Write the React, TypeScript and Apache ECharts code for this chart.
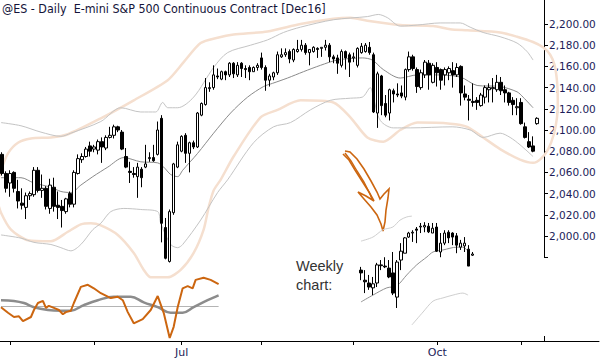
import React, { useEffect, useRef } from "react";
import * as echarts from "echarts";

// ---------- categories ----------
const monthDays: [string, number[]][] = [
  ["2016-04", [28, 29]],
  ["2016-05", [2, 3, 4, 5, 6, 9, 10, 11, 12, 13, 16, 17, 18, 19, 20, 23, 24, 25, 26, 27, 31]],
  ["2016-06", [1, 2, 3, 6, 7, 8, 9, 10, 13, 14, 15, 16, 17, 20, 21, 22, 23, 24, 27, 28, 29, 30]],
  ["2016-07", [1, 5, 6, 7, 8, 11, 12, 13, 14, 15, 18, 19, 20, 21, 22, 25, 26, 27, 28, 29]],
  ["2016-08", [1, 2, 3, 4, 5, 8, 9, 10, 11, 12, 15, 16, 17, 18, 19, 22, 23, 24, 25, 26, 29, 30, 31]],
  ["2016-09", [1, 2, 6, 7, 8, 9, 12, 13, 14, 15, 16, 19, 20, 21, 22, 23, 26, 27, 28, 29, 30]],
  ["2016-10", [3, 4, 5, 6, 7, 10, 11, 12, 13, 14, 17, 18, 19, 20, 21, 24, 25, 26, 27, 28, 31]],
  ["2016-11", [1, 2, 3, 4, 7]],
];
const dates: string[] = monthDays.flatMap(([m, ds]) => ds.map((d) => `${m}-${String(d).padStart(2, "0")}`));
const monthLabels = ["Jul", "Oct"];
const monthNames = ["Jan", "Feb", "Mar", "Apr", "May", "Jun", "Jul", "Aug", "Sep", "Oct", "Nov", "Dec"];

const weeks: string[] = [
  "04-25", "05-02", "05-09", "05-16", "05-23", "05-31", "06-06", "06-13", "06-20", "06-27",
  "07-05", "07-11", "07-18", "07-25", "08-01", "08-08", "08-15", "08-22", "08-29", "09-06",
  "09-12", "09-19", "09-26", "10-03", "10-10", "10-17", "10-24", "10-31", "11-07",
];

// ---------- daily bars [open, high, low, close] ----------
const dailyOHLC: number[][] = [
  [2077, 2079, 2057, 2059], [2059, 2061, 2041, 2045], [2050, 2062, 2037, 2059], [2060, 2061, 2041, 2045],
  [2042, 2053, 2026, 2033], [2031, 2045, 2025, 2029], [2027, 2041, 2016, 2038], [2038, 2042, 2034, 2040],
  [2039, 2065, 2037, 2062], [2062, 2065, 2041, 2043], [2043, 2058, 2036, 2045], [2045, 2047, 2025, 2028],
  [2026, 2054, 2021, 2048], [2046, 2055, 2023, 2028], [2029, 2042, 2016, 2027], [2028, 2034, 2008, 2024],
  [2023, 2036, 2021, 2035], [2040, 2042, 2027, 2030], [2030, 2062, 2027, 2060], [2059, 2077, 2058, 2073],
  [2072, 2078, 2069, 2075], [2075, 2084, 2074, 2082], [2085, 2089, 2075, 2080], [2082, 2086, 2079, 2084],
  [2081, 2091, 2077, 2089], [2089, 2093, 2069, 2084], [2083, 2095, 2081, 2093], [2093, 2103, 2092, 2095],
  [2095, 2105, 2092, 2103], [2103, 2104, 2098, 2100], [2098, 2100, 2081, 2082], [2075, 2083, 2064, 2065],
  [2061, 2070, 2050, 2060], [2059, 2065, 2055, 2058], [2056, 2069, 2036, 2065], [2063, 2065, 2046, 2055],
  [2065, 2086, 2064, 2068], [2073, 2079, 2070, 2074], [2074, 2086, 2070, 2071], [2077, 2108, 2076, 2100],
  [2111, 2114, 1994, 2012], [2008, 2017, 1978, 1979], [1976, 2025, 1975, 2023], [2022, 2069, 2020, 2068],
  [2065, 2089, 2064, 2086], [2080, 2095, 2079, 2094], [2095, 2097, 2069, 2078], [2078, 2089, 2060, 2088],
  [2088, 2090, 2082, 2084], [2084, 2117, 2083, 2116], [2114, 2126, 2113, 2125], [2124, 2149, 2123, 2140],
  [2139, 2145, 2136, 2140], [2140, 2161, 2138, 2152], [2151, 2158, 2148, 2150], [2148, 2156, 2147, 2155],
  [2155, 2156, 2147, 2152], [2152, 2164, 2150, 2163], [2163, 2164, 2149, 2153], [2152, 2164, 2150, 2161],
  [2163, 2164, 2150, 2158], [2158, 2161, 2149, 2157], [2159, 2161, 2147, 2155], [2155, 2160, 2155, 2159],
  [2159, 2163, 2156, 2161], [2168, 2173, 2157, 2159], [2159, 2161, 2137, 2147], [2147, 2153, 2141, 2151],
  [2150, 2155, 2147, 2154], [2154, 2174, 2152, 2171], [2169, 2177, 2168, 2171], [2171, 2177, 2169, 2173],
  [2174, 2176, 2163, 2167], [2166, 2177, 2164, 2176], [2174, 2185, 2173, 2176], [2176, 2185, 2174, 2180],
  [2180, 2182, 2171, 2173], [2173, 2176, 2161, 2176], [2174, 2179, 2173, 2178], [2177, 2178, 2168, 2176],
  [2177, 2178, 2169, 2178], [2178, 2185, 2175, 2180], [2180, 2182, 2164, 2169], [2169, 2171, 2163, 2167],
  [2168, 2171, 2153, 2163], [2161, 2176, 2159, 2174], [2174, 2175, 2157, 2168], [2171, 2173, 2150, 2164],
  [2168, 2173, 2164, 2169], [2161, 2178, 2159, 2177], [2173, 2182, 2172, 2179], [2174, 2182, 2173, 2180],
  [2178, 2183, 2171, 2173], [2171, 2173, 2116, 2117], [2116, 2155, 2102, 2153], [2151, 2152, 2114, 2123],
  [2125, 2133, 2112, 2114], [2116, 2139, 2109, 2138], [2137, 2139, 2126, 2134], [2134, 2144, 2131, 2133],
  [2135, 2142, 2130, 2132], [2131, 2158, 2128, 2157], [2157, 2174, 2155, 2169], [2169, 2171, 2156, 2158],
  [2157, 2159, 2135, 2141], [2140, 2157, 2138, 2154], [2152, 2166, 2149, 2164], [2163, 2166, 2138, 2152],
  [2145, 2163, 2144, 2161], [2159, 2164, 2141, 2154], [2157, 2158, 2138, 2147], [2152, 2159, 2142, 2157],
  [2154, 2160, 2147, 2158], [2156, 2164, 2140, 2152], [2152, 2163, 2150, 2159], [2160, 2161, 2123, 2135],
  [2134, 2142, 2128, 2131], [2129, 2133, 2109, 2128], [2127, 2144, 2122, 2126], [2128, 2131, 2119, 2126],
  [2123, 2135, 2122, 2133], [2131, 2142, 2125, 2140], [2138, 2144, 2126, 2140], [2139, 2149, 2126, 2140],
  [2138, 2152, 2136, 2145], [2145, 2150, 2133, 2137], [2138, 2142, 2126, 2135], [2135, 2136, 2123, 2126],
  [2128, 2131, 2114, 2124], [2121, 2130, 2114, 2122], [2126, 2130, 2105, 2106], [2103, 2107, 2092, 2093],
  [2089, 2098, 2083, 2084], [2085, 2094, 2079, 2080], [2106, 2112, 2105, 2111],
];

// ---------- daily bands: [bar index, price] ----------
const midBand: number[][] = [
  [-0.25, 2055], [4.75, 2055], [8, 2050], [12.25, 2046], [14.75, 2042], [17.25, 2041], [19.75, 2048],
  [22.75, 2056], [26.5, 2065], [30.5, 2074], [34.75, 2070], [39, 2069], [40.5, 2065], [42.25, 2058],
  [44, 2056], [45.25, 2062], [49, 2078], [53, 2097], [57.25, 2116], [61.5, 2131], [65.5, 2141],
  [67.75, 2144], [71.5, 2149], [75.5, 2155], [79.75, 2161], [84, 2166], [90.25, 2168], [92.75, 2166],
  [95.5, 2157], [99.75, 2149], [104, 2152], [108, 2152], [114.75, 2150], [119, 2142], [124.75, 2141],
  [129, 2136], [130.5, 2131], [133, 2121],
];
const upperBand: number[][] = [
  [-0.25, 2107], [4.75, 2104], [9.75, 2098], [14.75, 2094], [17.25, 2097], [24.75, 2108], [29.75, 2121],
  [34.75, 2117], [38.5, 2117], [40.25, 2126], [41.5, 2121], [44, 2121], [48, 2131], [53, 2159],
  [56.5, 2173], [62.25, 2180], [66.5, 2185], [70.5, 2192], [74.75, 2197], [83, 2204], [91.5, 2207],
  [94.25, 2209], [96.5, 2206], [99.75, 2198], [104, 2199], [109.75, 2201], [114.75, 2201], [117.25, 2197],
  [120.5, 2192], [124.75, 2188], [129, 2182], [131.5, 2174], [133, 2166],
];
const lowerBand: number[][] = [
  [-0.25, 2001], [4.75, 1998], [8, 1994], [12.25, 1992], [14.75, 1989], [17.25, 1986], [19.75, 1992],
  [22.75, 2006], [24.75, 2012], [27.25, 2023], [30.5, 2026], [34.75, 2025], [39, 2023], [39.75, 2012],
  [42.25, 1992], [44, 1989], [45.25, 1992], [49.75, 2015], [54, 2041], [56.5, 2053], [63, 2088],
  [68, 2103], [72.25, 2107], [77.25, 2119], [82.25, 2128], [87.25, 2130], [90.25, 2131], [92.25, 2140],
  [93, 2131], [94.75, 2109], [98, 2102], [102.25, 2102], [112.75, 2103], [117.25, 2100], [120.5, 2093],
  [124.75, 2097], [127.25, 2093], [129.75, 2086], [133, 2075],
];
// smoothed envelope, drawn as one closed loop (lower side left→right, upper side right→left)
const envelope: number[][] = [
  [-1.25, 2034], [-0.25, 2022], [2.25, 2006], [6.5, 1996], [12.25, 1995], [16.5, 2004], [19.75, 2011],
  [22.25, 2012], [24.75, 2010], [29, 2001], [33, 1984], [35.5, 1968], [37.25, 1961], [41.5, 1961],
  [44.75, 1968], [48, 1984], [50.5, 2006], [51.75, 2027], [53, 2043], [54.75, 2053], [58, 2075],
  [64.75, 2112], [69, 2119], [74.75, 2128], [83, 2126], [87.25, 2112], [91.5, 2093], [95.5, 2089],
  [99.75, 2100], [104, 2107], [112.25, 2106], [116.5, 2103], [120.5, 2093], [124.75, 2082],
  [129.75, 2072], [133, 2069], [135, 2073], [136.8, 2082], [138.2, 2096], [139, 2112], [139.2, 2128],
  [139, 2146], [138.4, 2161], [137.3, 2171], [135.5, 2178], [133, 2183], [129, 2188], [124.75, 2192],
  [116.5, 2194], [112.25, 2195], [108, 2198], [99.75, 2199], [91.5, 2203], [87.25, 2206], [83, 2205],
  [74.75, 2200], [66.5, 2193], [58, 2190], [54, 2187], [49.75, 2182], [45.5, 2164], [41.5, 2147],
  [33, 2128], [24.75, 2111], [16.5, 2096], [12.25, 2093], [7.25, 2092], [4, 2088], [1.5, 2078],
  [-0.25, 2062], [-1.25, 2048],
];

// ---------- oscillator: [bar index, value] ----------
const oscFast: number[][] = [
  [-0.25, -1], [1.5, -9], [3, -15], [4.25, -14], [5.25, -21], [7.25, -15], [8, -5], [9, 5], [10.25, 8],
  [11, -2], [11.75, 1], [13, -2], [14.25, -5], [15.25, -11], [16, -8], [17.25, -6], [18, 5], [19.75, 28],
  [21.5, 31], [23, 26], [24.75, 19], [27.25, 12], [29, 14], [30.25, 9], [31.5, -8], [33, -24],
  [35.25, -18], [37.25, -5], [39, 15], [40.5, -9], [42, -45], [43, -29], [44, -1], [45.25, 26],
  [46.5, 29], [47.75, 26], [48.5, 38], [50.5, 41], [52.25, 38], [54.25, 32],
];
const oscSlow: number[][] = [
  [-0.25, 9], [3, 8], [5.5, 5], [8, -1], [11.5, -5], [14.75, -6], [17.25, -6], [20.5, 2], [24, 9],
  [28, 14], [32.25, 14], [35.5, 6], [39, -1], [42.25, -9], [45.25, -9], [48, -1], [51.5, 9], [54.25, 16],
];
const oscZero: number[][] = [[-0.25, 0], [54.25, 0]];

// ---------- weekly inset [open, high, low, close] ----------
const weeklyOHLC: number[][] = [
  [2069, 2077, 2044, 2062], [2044, 2069, 2012, 2040], [2037, 2057, 2020, 2027], [2025, 2052, 2007, 2035],
  [2037, 2087, 2027, 2082], [2082, 2094, 2069, 2080], [2079, 2101, 2074, 2077], [2074, 2094, 2049, 2052],
  [2062, 2114, 2007, 2012], [2002, 2094, 1975, 2089], [2094, 2136, 2069, 2116], [2111, 2151, 2111, 2149],
  [2151, 2164, 2149, 2161], [2161, 2168, 2139, 2163], [2171, 2176, 2136, 2168], [2176, 2186, 2161, 2178],
  [2176, 2188, 2163, 2180], [2178, 2186, 2161, 2164], [2161, 2186, 2161, 2173], [2176, 2186, 2114, 2116],
  [2114, 2161, 2101, 2136], [2136, 2168, 2131, 2161], [2163, 2168, 2136, 2149], [2161, 2163, 2131, 2151],
  [2154, 2161, 2111, 2131], [2126, 2144, 2119, 2136], [2129, 2151, 2114, 2136], [2121, 2131, 2079, 2079],
  [2106, 2114, 2104, 2109],
];
const weeklyUpper: number[][] = [[0, 2141], [3, 2151], [5.5, 2169], [8, 2176], [9.8, 2193], [11.5, 2201], [12.8, 2203]];
const weeklyMid: number[][] = [
  [0, 1990], [3, 2007], [6.5, 2025], [9, 2030], [11.5, 2057], [14, 2082], [16.6, 2102], [18.1, 2114],
  [20.6, 2119], [24.1, 2126], [25.6, 2126], [26.9, 2116],
];
const weeklyLower: number[][] = [[12.8, 1933], [15.6, 1965], [18.1, 1992], [20.6, 2000], [23.1, 2007], [25.6, 2012], [26.9, 2007]];

const priceTicks = [1980, 2000, 2020, 2040, 2060, 2080, 2100, 2120, 2140, 2160, 2180, 2200];
const priceLabels = [2000, 2020, 2040, 2060, 2080, 2100, 2120, 2140, 2160, 2180, 2200];

const TEXT = "#1c1c58";
const PEACH = "#f5dfcf";
const ORANGE = "#cc6610";

export default function App() {
  const ref = useRef<HTMLDivElement>(null);

  useEffect(() => {
    if (!ref.current) return;
    const chart = echarts.init(ref.current, null, { renderer: "svg" });

    const mainCats = [...dates, "pad"];
    const bottomCats = [...dates, ...Array.from({ length: 15 }, (_, i) => `pad${i}`)];
    const monthStart = new Set<number>();
    dates.forEach((d, i) => {
      if (i > 0 && d.slice(0, 7) !== dates[i - 1].slice(0, 7)) monthStart.add(i);
    });
    const labelIdx = new Set<number>(
      [...monthStart].filter((i) => monthLabels.includes(monthNames[Number(dates[i].slice(5, 7)) - 1]))
    );

    const toCandle = (b: number[]) => [b[0], b[3], b[2], b[1]];
    // overlay grid is 4px per bar, widened to 141 bars so the envelope loop past the axis is kept
    const overlayBars = 141;
    const xMax = mainCats.length - 0.5;

    const lineBase = { type: "line", symbol: "none", clip: false, silent: true, animation: false };
    const candleStyle = {
      color: "#ffffff",
      color0: "#000000",
      borderColor: "#000000",
      borderColor0: "#000000",
      borderColorDoji: "#000000",
      borderWidth: 1,
    };

    chart.setOption({
      animation: false,
      backgroundColor: "#ffffff",
      grid: [
        { left: -1, top: 0, width: 544, height: 257.2 },
        { left: -1, top: 0, width: overlayBars * 4, height: 257.2 },
        { left: -1, top: 271.5, width: 544, height: 70 },
        { left: -1, top: 258, width: 600, height: 83 },
        { left: 359, top: 197.2, width: 115.4, height: 141 },
        { left: 359, top: 197.2, width: 115.4, height: 141 },
      ],
      xAxis: [
        { gridIndex: 0, type: "category", data: mainCats, boundaryGap: true, show: false },
        { gridIndex: 1, type: "value", min: -0.5, max: overlayBars - 0.5, show: false },
        { gridIndex: 2, type: "value", min: -0.5, max: xMax, show: false },
        {
          gridIndex: 3,
          type: "category",
          data: bottomCats,
          boundaryGap: true,
          axisLine: { show: true, lineStyle: { color: "#000", width: 1 } },
          axisTick: {
            show: true,
            alignWithLabel: true,
            length: 4,
            interval: (i: number) => monthStart.has(i),
            lineStyle: { color: "#000" },
          },
          axisLabel: {
            show: true,
            interval: (i: number) => labelIdx.has(i),
            formatter: (v: string) => monthNames[Number(v.slice(5, 7)) - 1],
            color: TEXT,
            fontFamily: "DejaVu Sans",
            fontSize: 11,
            margin: 6,
          },
        },
        { gridIndex: 4, type: "category", data: weeks, boundaryGap: true, show: false },
        { gridIndex: 5, type: "value", min: -0.5, max: weeks.length - 0.5, show: false },
      ],
      yAxis: [
        {
          gridIndex: 0,
          type: "value",
          position: "right",
          offset: 1,
          min: 1980,
          max: 2222.64,
          splitLine: { show: false },
          axisLine: { show: true, lineStyle: { color: "#000", width: 1 } },
          axisTick: { show: true, length: 4, customValues: priceTicks, lineStyle: { color: "#000" } },
          axisLabel: {
            customValues: priceLabels,
            formatter: (v: number) =>
              v.toLocaleString("en-US", { minimumFractionDigits: 2, maximumFractionDigits: 2 }),
            color: TEXT,
            fontFamily: "DejaVu Sans",
            fontSize: 10.5,
            margin: 5,
          },
        },
        { gridIndex: 1, type: "value", min: 1980, max: 2222.64, show: false },
        { gridIndex: 2, type: "value", min: -50, max: 50, show: false },
        { gridIndex: 3, type: "value", show: false },
        { gridIndex: 4, type: "value", min: 1900, max: 2250, show: false },
        { gridIndex: 5, type: "value", min: 1900, max: 2250, show: false },
      ],
      series: [
        { ...lineBase, xAxisIndex: 1, yAxisIndex: 1, data: envelope, smooth: 0.25, z: 1, lineStyle: { color: PEACH, width: 2.5 } },
        { ...lineBase, xAxisIndex: 1, yAxisIndex: 1, data: upperBand, smooth: 0.3, z: 2, lineStyle: { color: "#c4c4c4", width: 1 } },
        { ...lineBase, xAxisIndex: 1, yAxisIndex: 1, data: lowerBand, smooth: 0.3, z: 2, lineStyle: { color: "#c4c4c4", width: 1 } },
        { ...lineBase, xAxisIndex: 1, yAxisIndex: 1, data: midBand, smooth: 0.3, z: 2, lineStyle: { color: "#8a8a8a", width: 1 } },
        {
          type: "candlestick",
          xAxisIndex: 0,
          yAxisIndex: 0,
          data: dailyOHLC.map(toCandle),
          barWidth: 3,
          clip: false,
          z: 3,
          itemStyle: candleStyle,
        },
        { ...lineBase, xAxisIndex: 2, yAxisIndex: 2, data: oscZero, z: 2, lineStyle: { color: "#b4b4b4", width: 1 } },
        { ...lineBase, xAxisIndex: 2, yAxisIndex: 2, data: oscSlow, smooth: 0.4, z: 3, lineStyle: { color: "#8c8c8c", width: 2.5 } },
        { ...lineBase, xAxisIndex: 2, yAxisIndex: 2, data: oscFast, z: 4, lineStyle: { color: ORANGE, width: 2 } },
        { ...lineBase, xAxisIndex: 5, yAxisIndex: 5, data: weeklyUpper, smooth: 0.3, z: 2, lineStyle: { color: "#cfcfcf", width: 1 } },
        { ...lineBase, xAxisIndex: 5, yAxisIndex: 5, data: weeklyLower, smooth: 0.3, z: 2, lineStyle: { color: "#cfcfcf", width: 1 } },
        { ...lineBase, xAxisIndex: 5, yAxisIndex: 5, data: weeklyMid, smooth: 0.3, z: 2, lineStyle: { color: "#909090", width: 1 } },
        {
          type: "candlestick",
          xAxisIndex: 4,
          yAxisIndex: 4,
          data: weeklyOHLC.map(toCandle),
          barWidth: 3,
          clip: false,
          z: 3,
          itemStyle: candleStyle,
        },
      ],
      graphic: [
        {
          type: "text",
          left: 2,
          top: 2,
          style: {
            text: "@ES - Daily  E-mini S&P 500 Continuous Contract [Dec16]",
            fill: "#14143a",
            font: "12.4px 'DejaVu Sans Condensed', 'DejaVu Sans', sans-serif",
          },
        },
        {
          type: "text",
          left: 296,
          top: 256,
          style: {
            text: "Weekly\nchart:",
            fill: "#333333",
            font: "14.5px 'Liberation Sans', Arial, sans-serif",
            lineHeight: 19,
            align: "left",
          },
        },
        {
          type: "polyline",
          shape: {
            points: [
              [343, 154], [349, 160], [355, 170], [362, 181], [369, 192], [374, 201], [366, 196], [358, 192],
              [364, 199], [371, 207], [377, 215], [381, 224], [383, 231], [385, 222], [386, 210], [388, 198],
              [389, 189], [384, 194], [380, 199], [377, 192], [371, 181], [364, 169], [357, 159], [350, 152], [345, 151],
            ],
          },
          style: { stroke: ORANGE, lineWidth: 1.6, fill: null },
        },
        {
          type: "polyline",
          shape: {
            points: [
              [345, 153], [351, 161], [357, 171], [364, 182], [370, 194], [372, 199],
            ],
          },
          style: { stroke: ORANGE, lineWidth: 1.4, fill: null },
        },
        {
          type: "line",
          shape: { x1: 544.5, y1: 336, x2: 544.5, y2: 341 },
          style: { stroke: "#000", lineWidth: 1 },
        },
      ],
    });

    return () => chart.dispose();
  }, []);

  return (
    <div
      ref={ref}
      style={{ position: "absolute", left: 0, top: 0, width: 600, height: 360, background: "#fff" }}
    />
  );
}
